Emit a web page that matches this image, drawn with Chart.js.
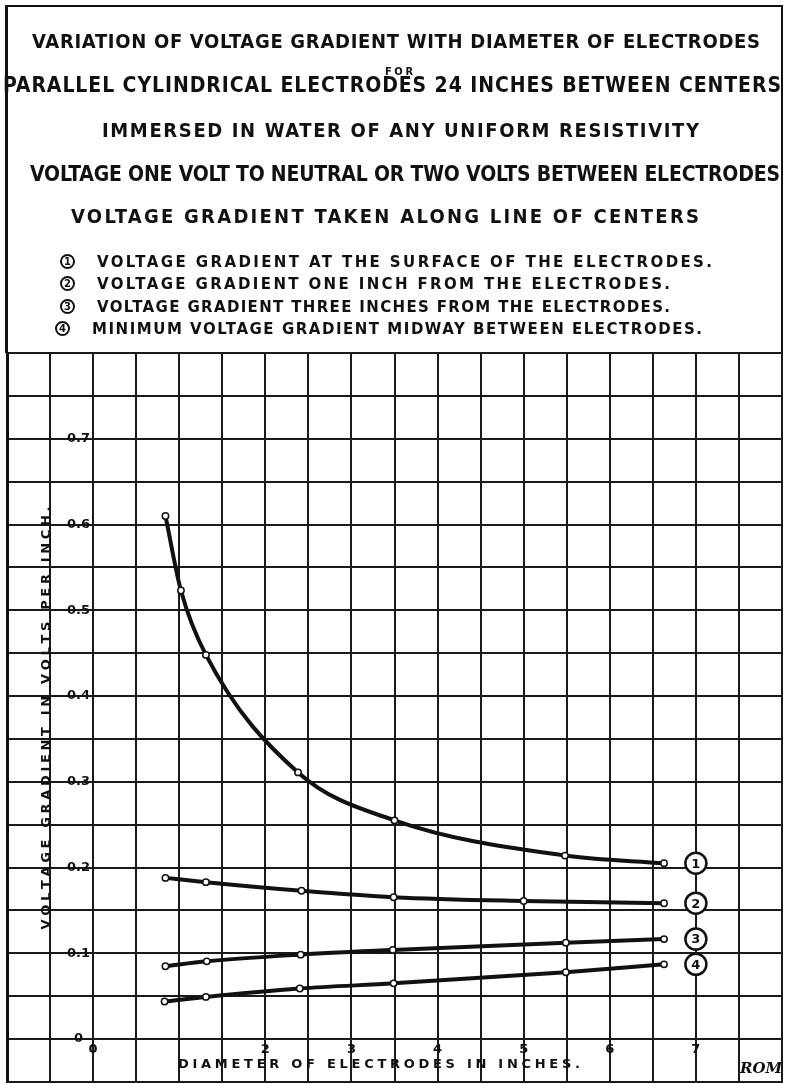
<!DOCTYPE html>
<html>
<head>
<meta charset="utf-8">
<script src="https://cdn.jsdelivr.net/npm/chart.js@4.4.1/dist/chart.umd.min.js"></script>
<style>
body { margin: 0; background: #fff; }
#wrap { position: relative; width: 785px; height: 1083px; overflow: hidden; }
#c { position: absolute; left: 0; top: 0; }
#head { position: absolute; left: 5px; top: 5px; width: 778px; height: 348px; box-sizing: border-box;
	border-left: 3px solid #111; border-top: 2px solid #111; border-right: 2px solid #111; }
.ln { position: absolute; white-space: nowrap; color: #111; line-height: 1;
	font-family: "DejaVu Sans Condensed", "DejaVu Sans", sans-serif; }
.lg { font-family: "DejaVu Sans", sans-serif; font-weight: bold; }
.num { position: absolute; width: 15px; height: 15px; box-sizing: border-box; border: 2px solid #111;
	border-radius: 50%; font: bold 10px "DejaVu Sans", sans-serif; text-align: center; line-height: 11px; color: #111; }
</style>
</head>
<body>
<div id="wrap">
	<canvas id="c" width="785" height="1083"></canvas>
	<div id="head"></div>
</div>
<script>
"use strict";

// curve 1: at the surface of the electrodes
const surfaceX = [0.84, 1.02, 1.31, 2.38, 3.50, 5.48, 6.63];
const surfaceY = [0.610, 0.523, 0.448, 0.311, 0.255, 0.214, 0.205];
// curve 2: one inch from the electrodes
const oneInchX = [0.84, 1.31, 2.42, 3.49, 5.00, 6.63];
const oneInchY = [0.188, 0.183, 0.173, 0.1655, 0.161, 0.1585];
// curve 3: three inches from the electrodes
const threeInchX = [0.84, 1.32, 2.41, 3.48, 5.49, 6.63];
const threeInchY = [0.085, 0.0907, 0.0985, 0.104, 0.1124, 0.1166];
// curve 4: minimum, midway between electrodes
const midwayX = [0.83, 1.31, 2.40, 3.49, 5.49, 6.63];
const midwayY = [0.0438, 0.0492, 0.059, 0.065, 0.078, 0.0872];

const curveNames = ["1", "2", "3", "4"];
const curveLabelAt = 7;

const xTickValues = [0, 2, 3, 4, 5, 6, 7];
const xTickLabels = ["0", "2", "3", "4", "5", "6", "7"];
const yTickValues = [0, 0.1, 0.2, 0.3, 0.4, 0.5, 0.6, 0.7];
const yTickLabels = ["0", "0.1", "0.2", "0.3", "0.4", "0.5", "0.6", "0.7"];

const xTitle = "DIAMETER OF ELECTRODES IN INCHES.";
const yTitle = "VOLTAGE GRADIENT IN VOLTS PER INCH.";
const signature = "ROM";

const headerText = [
	"VARIATION OF VOLTAGE GRADIENT WITH DIAMETER OF ELECTRODES",
	"FOR",
	"PARALLEL CYLINDRICAL ELECTRODES 24 INCHES BETWEEN CENTERS",
	"IMMERSED IN WATER OF ANY UNIFORM RESISTIVITY",
	"VOLTAGE ONE VOLT TO NEUTRAL OR TWO VOLTS BETWEEN ELECTRODES",
	"VOLTAGE GRADIENT TAKEN ALONG LINE OF CENTERS"
];
const legendText = [
	"VOLTAGE GRADIENT AT THE SURFACE OF THE ELECTRODES.",
	"VOLTAGE GRADIENT ONE INCH FROM THE ELECTRODES.",
	"VOLTAGE GRADIENT THREE INCHES FROM THE ELECTRODES.",
	"MINIMUM VOLTAGE GRADIENT MIDWAY BETWEEN ELECTRODES."
];

/* HEADER */

// [x start, x end, center y, font size]
const headerLayout = [
	[32, 760, 41, 20],
	[385, 413, 71, 11],
	[3, 781, 85, 21],
	[102, 699, 130, 20],
	[30, 780, 174, 21],
	[71, 699, 216, 20]
];
const legendLayout = [
	[97, 712, 262],
	[97, 670, 284],
	[97, 670, 307],
	[92, 702, 329]
];

const wrap = document.querySelector("#wrap");

function placeLine(text, cls, x0, x1, cy, size){
	const el = document.createElement("div");
	el.className = cls;
	el.textContent = text;
	el.style.fontSize = size + "px";
	el.style.fontWeight = "bold";
	el.style.left = x0 + "px";
	el.style.top = (cy - size * 0.5) + "px";
	wrap.appendChild(el);
	const w = el.getBoundingClientRect().width;
	el.style.letterSpacing = ((x1 - x0 - w) / (text.length - 1)) + "px";
}

headerText.forEach((t, i) => {
	const [x0, x1, cy, size] = headerLayout[i];
	placeLine(t, "ln", x0, x1, cy, size);
});
legendText.forEach((t, i) => {
	const [x0, x1, cy] = legendLayout[i];
	placeLine(t, "ln lg", x0, x1, cy, 15);
	const n = document.createElement("div");
	n.className = "num";
	n.textContent = curveNames[i];
	n.style.left = (x0 - 37) + "px";
	n.style.top = (cy - 8) + "px";
	wrap.appendChild(n);
});

/* CHART */

function points(xs, ys){
	return xs.map((x, i) => ({x: x, y: ys[i]}));
}

function findLabel(values, labels, v){
	const i = values.findIndex(t => Math.abs(t - v) < 1e-6);
	return i < 0 ? "" : labels[i];
}

function spread(ctx, text, cx, cy, width, rot){
	ctx.save();
	ctx.translate(cx, cy);
	ctx.rotate(rot);
	const chars = [...text];
	const ws = chars.map(c => ctx.measureText(c).width);
	const total = ws.reduce((a, b) => a + b, 0);
	const gap = (width - total) / (chars.length - 1);
	let px = -width / 2;
	ctx.textAlign = "left";
	chars.forEach((c, i) => {
		ctx.fillText(c, px, 0);
		px += ws[i] + gap;
	});
	ctx.restore();
}

// axes take no room: labels sit inside the grid
function noRoom(s){
	if (s.isHorizontal()) s.height = 0; else s.width = 0;
	s.paddingLeft = 0;
	s.paddingRight = 0;
	s.paddingTop = 0;
	s.paddingBottom = 0;
}

const series = [surfaceY, oneInchY, threeInchY, midwayY];

const overlay = {
	id: "overlay",
	afterDraw(chart){
		const {ctx, scales: {x, y}} = chart;
		ctx.save();
		ctx.fillStyle = "#111";
		ctx.textBaseline = "middle";
		ctx.font = "bold 13px 'DejaVu Sans'";
		spread(ctx, xTitle, 379, 1065, 402, 0);
		spread(ctx, yTitle, 47, 718, 423, -Math.PI / 2);

		series.forEach((ys, i) => {
			const px = x.getPixelForValue(curveLabelAt);
			const py = y.getPixelForValue(ys[ys.length - 1]);
			ctx.beginPath();
			ctx.arc(px, py, 10.5, 0, 2 * Math.PI);
			ctx.fillStyle = "#fff";
			ctx.fill();
			ctx.lineWidth = 2.5;
			ctx.strokeStyle = "#111";
			ctx.stroke();
			ctx.fillStyle = "#111";
			ctx.textAlign = "center";
			ctx.font = "bold 13px 'DejaVu Sans'";
			ctx.fillText(curveNames[i], px, py + 1);
		});

		ctx.font = "italic bold 15px 'DejaVu Serif'";
		ctx.textAlign = "center";
		ctx.fillText(signature, 761, 1069);
		ctx.restore();
	}
};

function curve(xs, ys){
	return {
		data: points(xs, ys),
		borderColor: "#111",
		borderWidth: 4,
		borderCapStyle: "round",
		cubicInterpolationMode: "monotone",
		pointRadius: 3.2,
		pointBackgroundColor: "#fff",
		pointBorderColor: "#111",
		pointBorderWidth: 1.5,
		fill: false
	};
}

const tickFont = {family: "DejaVu Sans", weight: "bold", size: 13};

new Chart(document.querySelector("#c"), {
	type: "line",
	data: {
		datasets: [
			curve(surfaceX, surfaceY),
			curve(oneInchX, oneInchY),
			curve(threeInchX, threeInchY),
			curve(midwayX, midwayY)
		]
	},
	options: {
		responsive: false,
		animation: false,
		devicePixelRatio: 1,
		layout: {autoPadding: false, padding: {left: 7, top: 353, right: 3, bottom: 1}},
		plugins: {legend: {display: false}, tooltip: {enabled: false}},
		scales: {
			x: {
				type: "linear",
				min: -1,
				max: 8,
				afterFit: noRoom,
				grid: {color: "#1a1a1a", lineWidth: 2, drawTicks: false},
				border: {display: true, color: "#1a1a1a", width: 2},
				ticks: {
					stepSize: 0.5,
					autoSkip: false,
					maxRotation: 0,
					mirror: true,
					padding: 25,
					color: "#111",
					font: tickFont,
					callback: v => findLabel(xTickValues, xTickLabels, v)
				}
			},
			y: {
				type: "linear",
				min: -0.05,
				max: 0.8,
				afterFit: noRoom,
				grid: {color: "#1a1a1a", lineWidth: 2, drawTicks: false},
				border: {display: true, color: "#111", width: 3},
				ticks: {
					stepSize: 0.05,
					autoSkip: false,
					mirror: true,
					crossAlign: "center",
					padding: 60,
					color: "#111",
					font: tickFont,
					callback: v => findLabel(yTickValues, yTickLabels, v)
				}
			}
		}
	},
	plugins: [overlay]
});
</script>
</body>
</html>
